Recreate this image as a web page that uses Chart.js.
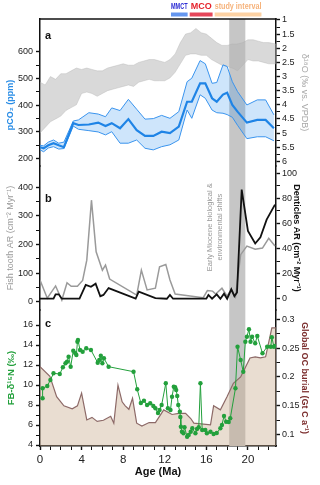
<!DOCTYPE html>
<html>
<head>
<meta charset="utf-8">
<script src="https://cdn.jsdelivr.net/npm/chart.js@4.4.1/dist/chart.umd.min.js"></script>
<style>
  html, body { margin: 0; padding: 0; background: #fff; }
  #wrap { width: 320px; height: 485px; position: relative; }
</style>
</head>
<body>
<div id="wrap"><canvas id="chart"></canvas></div>
<script>
// ---- panel a : benthic d18O cloud (edges) and pCO2 ----
const d18Age = [0,0.5,1,1.5,2,2.5,3,3.5,4,4.5,5,5.5,6,6.5,7,7.5,8,8.5,9,9.5,10,10.5,11,11.5,12,12.5,13,13.5,14,14.5,15,15.5,16,16.5,17,17.5,18,18.5,19,19.5,20,20.5,21,21.5,22,22.7]
const d18Top = [3.2,3.3,3.0,3.1,2.9,2.9,2.8,2.7,2.75,2.7,2.75,2.8,2.8,2.7,2.65,2.6,2.55,2.6,2.6,2.5,2.45,2.4,2.4,2.45,2.5,2.4,2.2,1.8,1.5,1.45,1.3,1.45,1.5,1.65,1.8,1.9,1.9,1.85,1.85,1.8,1.7,1.7,1.75,1.8,1.8,1.85]
const d18Bottom = [5.0,4.8,4.6,4.5,4.4,4.2,4.1,4.0,3.6,3.55,3.6,3.7,3.6,3.5,3.45,3.4,3.35,3.3,3.35,3.2,3.15,3.1,3.15,3.15,3.15,3.05,2.85,2.55,2.25,2.2,2.2,2.25,2.25,2.4,2.5,2.6,2.65,2.7,2.8,2.6,2.4,2.45,2.45,2.5,2.55,2.55]

const co2Age = [0,0.35,0.8,1.3,1.8,2.3,3.2,3.7,4.7,5.6,6.3,6.9,7.7,8.5,9.3,10.1,10.9,11.7,12.5,13.35,14.15,14.6,15.4,15.9,16.55,17.0,17.6,18.0,18.5,19.0,19.9,20.9,21.7,22.5]
const co2Mid = [243,239,250,258,250,243,333,326,328,335,322,333,314,348,307,285,285,301,296,320,413,413,482,482,426,413,440,447,401,376,335,345,345,314]
const co2Hi = [250,248,262,270,258,262,341,345,372,367,357,390,380,422,385,348,350,362,351,376,488,501,567,555,482,485,551,545,488,451,401,420,420,364]
const co2Lo = [233,226,240,245,236,238,322,310,305,300,289,301,258,258,270,239,233,245,252,270,382,351,439,426,382,372,370,365,355,325,275,282,282,267]

// ---- panel b : ichthyolith accumulation ----
const fishAge = [0,0.7,1.5,2.1,2.6,3.0,3.6,4.1,4.5,4.95,5.4,6.0,6.3,6.7,9.3,9.75,10.3,11.1,11.5,12.1,12.5,13.0,15.7,16.1,16.6,16.9,17.5,18.0,18.4,18.8,19.3,19.9,20.7,21.4,22.0,22.6]
const fishAR = [77,13,56,7,67,55,55,75,146,355,175,111,129,80,24,111,42,48,123,131,77,28,15,40,38,28,48,20,44,18,165,195,184,188,222,195]
const dentAge = [0,1.3,1.5,1.8,2.1,3.8,4.4,4.9,5.35,5.8,6.1,6.6,9.2,9.5,11.1,12.2,12.5,12.8,16.0,16.2,16.55,17.0,17.35,17.7,18.0,18.4,18.7,18.95,19.4,20.0,20.7,21.2,21.8,22.6]
const dentAR = [0,0,3.5,3.5,0,0,11,9.5,12,2,3,8.5,0,5.6,0.5,0,3,0,0,3,0,3.5,0,4,0,7.5,2,5,87,54,44,49,63,75]

// ---- panel c : FB-d15N and global organic carbon burial ----
const n15Age = [0.25,0.25,0.7,1.0,1.3,1.9,2.2,2.45,2.6,2.75,2.95,3.2,3.4,3.5,3.6,3.65,3.85,4.1,4.45,4.9,5.55,5.7,5.85,6.0,6.15,6.6,9.0,9.35,9.7,10.0,10.3,10.6,10.9,11.1,11.35,11.5,11.7,12.1,12.3,12.55,12.7,12.87,13.0,13.1,13.2,13.3,13.45,13.5,13.55,13.65,13.8,13.9,14.15,14.3,14.5,14.65,14.95,15.1,15.27,15.43,15.6,15.9,16.05,16.4,16.7,17.0,17.35,17.5,17.7,17.9,18.15,18.3,18.8,19.0,19.3,19.55,19.75,19.9,20.1,20.25,20.4,20.7,20.9,21.4,21.85,22.2,22.3,22.5,22.6]
const n15Val = [8.67,9.67,9.9,10.5,11.17,11.1,11.77,12.17,12.33,12.83,11.83,13.43,13.17,13.0,14.33,14.5,13.5,13.33,13.67,13.5,12.23,12.5,12.93,12.17,12.67,11.83,11.33,9.57,8.2,8.43,8.0,8.17,7.9,7.67,7.2,7.5,8.0,10.17,7.67,7.5,8.83,9.83,9.77,9.5,8.9,8.0,7.33,6.8,5.83,5.33,5.17,5.77,4.83,5.0,5.33,5.67,5.17,5.6,5.77,10.17,5.5,5.5,5.17,5.33,5.1,5.2,5.67,6.0,6.9,6.33,6.3,6.67,9.67,13.83,12.5,11.33,14.33,14.83,15.57,14.33,14.83,14.17,14.9,13.17,13.83,13.83,14.77,13.83,13.9]
const ocAge = [0,0.95,1.6,2.3,3.1,3.6,4.0,4.5,5.0,5.5,6.1,6.8,7.1,7.5,7.9,8.2,8.55,8.9,9.3,9.8,10.5,11.1,11.9,12.7,13.35,14.0,14.5,14.8,16.4,16.7,17.35,18.0,18.6,19.3,20.2,20.7,21.2,21.7,22.3,22.7]
const ocBurial = [0.218,0.201,0.166,0.15,0.145,0.15,0.172,0.1255,0.13,0.123,0.125,0.132,0.12,0.186,0.157,0.15,0.144,0.163,0.12,0.115,0.121,0.121,0.143,0.135,0.137,0.137,0.128,0.12,0.117,0.15,0.143,0.166,0.189,0.2,0.233,0.235,0.233,0.235,0.285,0.285]

// ---- ticks (labelled / unlabelled) ----
const ageMajor = [0,4,8,12,16,20]
const ageMinor = [1,2,3,5,6,7,9,10,11,13,14,15,17,18,19,21,22]
const co2Major = [200,300,400,500,600]
const co2Minor = [250,350,450,550]
const d18Major = [1,1.5,2,2.5,3,3.5,4,4.5,5,5.5,6]
const d18Minor = [1.25,1.75,2.25,2.75,3.25,3.75,4.25,4.75,5.25,5.75]
const fishMajor = [0,100,200,300,400]
const fishMinor = [50,150,250,350]
const dentMajor = [0,20,40,60,80,100]
const dentMinor = [10,30,50,70,90]
const n15Major = [4,6,8,10,12,14,16]
const n15Minor = [5,7,9,11,13,15]
const ocMajor = [0.1,0.15,0.2,0.25,0.3]
const ocMinor = [0.125,0.175,0.225,0.275]

// ---- annotations ----
const studyBand = [18.2, 19.75]
const keyNames = ['MMCT', 'MCO', 'study interval']
const keyStart = [12.6, 14.4, 16.8]
const keyEnd = [14.2, 16.6, 21.3]
const noteLines = ['Early Miocene biological &', 'environmental shifts']

const FONT = "'Liberation Sans', Arial, sans-serif"
Chart.defaults.font.family = FONT

const pts = (xs, ys) => xs.map((x, i) => ({x: x, y: ys[i]}))

function sideAxis(o) {
  const left = o.pos === 'left'
  return {
    type: 'linear',
    position: o.pos,
    stack: 'panels',
    stackWeight: o.h,
    weight: o.w,
    min: o.min,
    max: o.max,
    reverse: !!o.reverse,
    afterBuildTicks: s => {
      s.ticks = o.major.concat(o.minor).sort((a, b) => a - b).map(v => ({value: v}))
    },
    afterFit: s => { s.width = left ? 40 : 44 },
    border: {display: true, color: '#111', width: 1.5},
    grid: {
      drawOnChartArea: false,
      drawTicks: true,
      tickLength: 4,
      tickColor: '#111',
      tickWidth: c => (c.tick && o.major.includes(c.tick.value)) ? 1.4 : 1
    },
    ticks: {
      autoSkip: false,
      padding: left ? 3 : 2,
      color: '#222',
      font: {size: 9},
      callback: v => o.major.includes(v) ? String(v) : ''
    },
    title: {
      display: true,
      text: o.title,
      color: o.color,
      font: {size: o.tsize || 9, weight: o.bold ? 'bold' : 'normal'},
      padding: {top: o.tpad, bottom: 0}
    }
  }
}

const decor = {
  id: 'decor',
  beforeDatasetsDraw(chart) {
    const {ctx, chartArea: a, scales: {x}} = chart
    const x0 = x.getPixelForValue(studyBand[0])
    const x1 = x.getPixelForValue(studyBand[1])
    ctx.save()
    ctx.fillStyle = '#c6c6c6'
    ctx.fillRect(x0, a.top, x1 - x0, a.bottom - a.top)
    ctx.restore()
  },
  afterDraw(chart) {
    const {ctx, chartArea: a, scales} = chart
    const x = scales.x
    ctx.save()
    // top frame
    ctx.strokeStyle = '#111'
    ctx.lineWidth = 1.5
    ctx.beginPath()
    ctx.moveTo(a.left - 0.75, a.top)
    ctx.lineTo(a.right + 0.75, a.top)
    ctx.stroke()

    // interval keys above the frame
    const keyText = ['#2b2bd4', '#e5222b', '#f6b27a']
    const keyBar = ['#6496ee', '#e5465a', '#fdd2a4']
    ctx.textAlign = 'center'
    ctx.textBaseline = 'middle'
    ctx.font = 'bold 9px ' + FONT
    keyNames.forEach((name, i) => {
      const l = x.getPixelForValue(keyStart[i]), r = x.getPixelForValue(keyEnd[i])
      ctx.fillStyle = keyBar[i]
      ctx.fillRect(l, 12.5, r - l, 4)
      ctx.fillStyle = keyText[i]
      ctx.fillText(name, (l + r) / 2, 7, r - l)
    })

    // panel letters
    ctx.textAlign = 'left'
    ctx.fillStyle = '#111'
    ctx.font = 'bold 11px ' + FONT
    ctx.fillText('a', a.left + 5, scales.yCO2.getPixelForValue(660))
    ctx.fillText('b', a.left + 5, scales.yFish.getPixelForValue(360))
    ctx.fillText('c', a.left + 5, scales.yN.getPixelForValue(16.1))

    // rotated note in panel b
    ctx.fillStyle = '#9a9a9a'
    ctx.font = '7.5px ' + FONT
    ctx.textAlign = 'center'
    const yMid = scales.yDent.getPixelForValue(57)
    const lx = [x.getPixelForValue(16.35), x.getPixelForValue(17.35)]
    noteLines.forEach((t, i) => {
      ctx.save()
      ctx.translate(lx[i], yMid)
      ctx.rotate(-Math.PI / 2)
      ctx.fillText(t, 0, 0)
      ctx.restore()
    })
    ctx.restore()
  }
}

new Chart(
  document.getElementById('chart'),
  {
    type: 'line',
    data: {
      datasets: [
        {
          data: pts(d18Age, d18Top), yAxisID: 'yO', order: 10,
          borderColor: 'rgba(175,175,175,0.6)', borderWidth: 0.6,
          backgroundColor: 'rgba(180,180,180,0.5)', fill: '+1'
        },
        {
          data: pts(d18Age, d18Bottom), yAxisID: 'yO', order: 10,
          borderColor: 'rgba(175,175,175,0.6)', borderWidth: 0.6, fill: false
        },
        {
          data: pts(co2Age, co2Hi), yAxisID: 'yCO2', order: 8,
          borderColor: '#3a94ee', borderWidth: 1,
          backgroundColor: 'rgba(60,150,240,0.25)', fill: '+1'
        },
        {
          data: pts(co2Age, co2Lo), yAxisID: 'yCO2', order: 8,
          borderColor: '#3a94ee', borderWidth: 1, fill: false
        },
        {
          data: pts(co2Age, co2Mid), yAxisID: 'yCO2', order: 7,
          borderColor: '#1f84e6', borderWidth: 2.2, fill: false
        },
        {
          data: pts(fishAge, fishAR), yAxisID: 'yFish', order: 5,
          borderColor: '#9a9a9a', borderWidth: 1.5, fill: false
        },
        {
          data: pts(dentAge, dentAR), yAxisID: 'yDent', order: 4,
          borderColor: '#111', borderWidth: 1.8, fill: false
        },
        {
          data: pts(ocAge, ocBurial), yAxisID: 'yOC', order: 3,
          borderColor: '#8d6a68', borderWidth: 1.2,
          backgroundColor: 'rgba(200,170,140,0.4)', fill: 'start'
        },
        {
          data: pts(n15Age, n15Val), yAxisID: 'yN', order: 1,
          borderColor: '#23a03c', borderWidth: 1, fill: false,
          pointRadius: 2.2, pointBackgroundColor: '#23a03c', pointBorderWidth: 0
        }
      ]
    },
    options: {
      responsive: true,
      maintainAspectRatio: false,
      animation: false,
      elements: {
        line: {tension: 0},
        point: {radius: 0}
      },
      layout: {padding: {top: 19, left: 0, right: 0, bottom: 0}},
      scales: {
        x: {
          type: 'linear',
          min: 0,
          max: 22.7,
          afterBuildTicks: s => {
            s.ticks = ageMajor.concat(ageMinor).sort((a, b) => a - b).map(v => ({value: v}))
          },
          afterFit: s => { s.height = 39 },
          border: {display: true, color: '#111', width: 1.5},
          grid: {
            drawOnChartArea: false,
            tickLength: 4,
            tickColor: '#111',
            tickWidth: c => (c.tick && ageMajor.includes(c.tick.value)) ? 1.4 : 1
          },
          ticks: {
            autoSkip: false, maxRotation: 0, padding: 3, color: '#222',
            font: {size: 11.5},
            callback: v => ageMajor.includes(v) ? String(v) : ''
          },
          title: {
            display: true, text: 'Age (Ma)', color: '#111',
            font: {size: 11, weight: 'bold'}, padding: {top: 0, bottom: 6}
          }
        },
        yCO2: sideAxis({pos: 'left', h: 147, w: 3, min: 172.7, max: 722.5, major: co2Major, minor: co2Minor,
          title: 'pCO\u2082 (ppm)' + '\u00A0'.repeat(10), color: '#2a8de6', bold: true, tpad: 5}),
        yFish: sideAxis({pos: 'left', h: 144, w: 2, min: -27.9, max: 474.2, major: fishMajor, minor: fishMinor,
          title: 'Fish tooth AR (cm\u207B\u00B2 Myr\u207B\u00B9)', color: '#9a9a9a', bold: false, tpad: 5}),
        yN: sideAxis({pos: 'left', h: 136, w: 1, min: 3.9, max: 17.5, major: n15Major, minor: n15Minor,
          title: 'FB-\u03B4\u00B9\u2075N (\u2030)', color: '#23a03c', bold: true, tsize: 9.5, tpad: 6}),
        yO: sideAxis({pos: 'right', h: 147, w: 1, min: 0.965, max: 6.166, reverse: true, major: d18Major, minor: d18Minor,
          title: '\u03B4\u00B9\u2078O (\u2030 vs. VPDB)', color: '#a8a8a8', bold: false, tpad: 10.5}),
        yDent: sideAxis({pos: 'right', h: 144, w: 2, min: -9.0, max: 105.8, major: dentMajor, minor: dentMinor,
          title: 'Denticles AR (cm\u207B\u00B2 Myr\u207B\u00B9)', color: '#111', bold: true, tpad: 18}),
        yOC: sideAxis({pos: 'right', h: 136, w: 3, min: 0.0804, max: 0.3161, major: ocMajor, minor: ocMinor,
          title: 'Global OC burial (Gt C a\u207B\u00B9)', color: '#7b2d2d', bold: true, tpad: 10.5})
      },
      plugins: {
        legend: {display: false},
        tooltip: {enabled: false}
      }
    },
    plugins: [decor]
  }
)
</script>
</body>
</html>
